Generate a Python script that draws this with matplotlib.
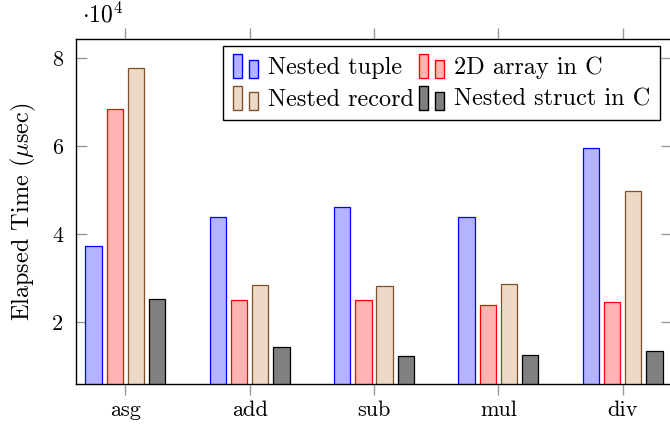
import numpy as np
import matplotlib
matplotlib.use('Agg')
from matplotlib import pyplot as plt
from matplotlib.patches import Rectangle
from matplotlib.legend_handler import HandlerBase

plt.rcParams['font.family'] = 'serif'
plt.rcParams['font.serif'] = ['cmr10', 'DejaVu Serif']
plt.rcParams['mathtext.fontset'] = 'cm'
plt.rcParams['axes.formatter.use_mathtext'] = True

# Elapsed time per operation, in microseconds
operations = ['asg', 'add', 'sub', 'mul', 'div']
nested_tuple = [37200, 44000, 46100, 44000, 59700]
array_2d_c = [68500, 25100, 25000, 23800, 24500]
nested_record = [77700, 28500, 28300, 28600, 49800]
nested_struct_c = [25200, 14400, 12300, 12500, 13300]

series_names = ['Nested tuple', '2D array in C', 'Nested record', 'Nested struct in C']
y_ticks = [20000, 40000, 60000, 80000]
y_tick_labels = ['2', '4', '6', '8']


class TwoBarHandler(HandlerBase):
    # legend entry drawn as two small bars, like a ybar legend
    def create_artists(self, legend, orig_handle, xdescent, ydescent,
                       width, height, fontsize, trans):
        fc = orig_handle.get_facecolor()
        ec = orig_handle.get_edgecolor()
        w = width * 0.34
        r1 = Rectangle((-xdescent, -ydescent - 3), w, height * 1.4,
                       facecolor=fc, edgecolor=ec, lw=1.0, transform=trans)
        r2 = Rectangle((-xdescent + width * 0.62, -ydescent - 3), w, height * 1.05,
                       facecolor=fc, edgecolor=ec, lw=1.0, transform=trans)
        return [r1, r2]


fig = plt.figure(figsize=(6.7, 4.24), dpi=100)
ax = fig.add_axes([0.1134, 0.0943, 0.8896, 0.8137])

styles = [
    ('#b3b3ff', '#0000ff'),
    ('#ffb3b3', '#ff0000'),
    ('#ecd9c6', '#7f5128'),
    ('#808080', '#000000'),
]
values = [nested_tuple, array_2d_c, nested_record, nested_struct_c]
x = np.arange(len(operations))
step = 0.171
bar_w = 0.131
bars = []
for i, (vals, (fc, ec)) in enumerate(zip(values, styles)):
    b = ax.bar(x + (i - 1.5) * step, vals, bar_w, bottom=0, facecolor=fc,
               edgecolor=ec, linewidth=0.9, label=series_names[i], zorder=2)
    bars.append(b.patches[0])

ax.set_xlim(-0.397, 4.397)
ax.set_ylim(5900, 84400)
ax.set_xticks(x)
ax.set_xticklabels(operations, fontsize=16)
ax.set_yticks(y_ticks)
ax.set_yticklabels(y_tick_labels, fontsize=16)
ax.tick_params(axis='x', direction='out', top=True, bottom=True, length=8,
               color='#999999', width=1.0, pad=4)
ax.tick_params(axis='y', direction='in', left=True, right=True, length=8,
               color='#999999', width=1.0, pad=9)
for s in ax.spines.values():
    s.set_linewidth(1.0)

ax.set_ylabel(r'Elapsed Time ($\mu$sec)', fontsize=17.5, labelpad=10)
ax.text(0.01, 1.035, r'$\cdot 10^4$', transform=ax.transAxes, fontsize=17,
        ha='left', va='bottom')

order = [0, 2, 1, 3]
leg = ax.legend([bars[i] for i in order], [series_names[i] for i in order],
                ncol=2, loc='upper right', bbox_to_anchor=(660 / 670, 377.5 / 424),
                bbox_transform=fig.transFigure, fontsize=17.5, frameon=True,
                fancybox=False, framealpha=1, edgecolor='black',
                handler_map={Rectangle: TwoBarHandler()},
                handlelength=1.1, handletextpad=0.35, columnspacing=0.2,
                labelspacing=0.4, borderpad=0.4, borderaxespad=0)
leg.get_frame().set_linewidth(1.0)

fig.savefig('out.png', dpi=100)
